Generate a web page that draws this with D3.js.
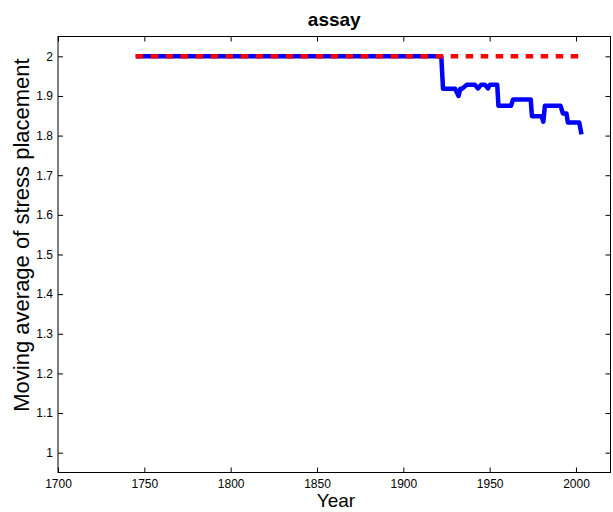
<!DOCTYPE html>
<html>
<head>
<meta charset="utf-8">
<script src="https://cdn.jsdelivr.net/npm/d3@7"></script>
<style>
  html, body { margin: 0; padding: 0; background: #fff; }
  svg { display: block; font-family: "Liberation Sans", Arial, Helvetica, sans-serif; }
</style>
</head>
<body>
<svg id="chart" width="613" height="512"></svg>
<script>
// Moving average of stress placement, "assay"
const years = [1745, 1922, 1923, 1930, 1932, 1933, 1934, 1936.7, 1941.5, 1943.2, 1945, 1947.3, 1949, 1950.2,
               1954.4, 1955.1, 1962.4, 1963.5, 1973.8, 1974.5, 1980.1, 1981.1, 1982, 1991.1, 1992.4,
               1994.5, 1995.3, 2001.9, 2003.2];
const observed = [2.0, 2.0, 1.918, 1.918, 1.900, 1.918, 1.918, 1.928, 1.928, 1.919, 1.928, 1.928, 1.919, 1.928,
                  1.928, 1.875, 1.875, 1.891, 1.891, 1.849, 1.849, 1.835, 1.875, 1.875, 1.856,
                  1.856, 1.833, 1.833, 1.803];
const baselineYears = [1745, 2003.2];
const baselineValues = [2.0, 2.0];
const xTicks = [1700, 1750, 1800, 1850, 1900, 1950, 2000];
const yTicks = [1, 1.1, 1.2, 1.3, 1.4, 1.5, 1.6, 1.7, 1.8, 1.9, 2];

const svg = d3.select("#chart");
const plotLeft = 58, plotRight = 610.5, plotTop = 36.5, plotBottom = 472.5;

const x = d3.scaleLinear().domain([1700, 2020]).range([plotLeft, plotRight]);
const y = d3.scaleLinear().domain([0.95, 2.05]).range([plotBottom, plotTop]);

const tickLen = 5;

// Frame box
svg.append("rect")
  .attr("x", plotLeft).attr("y", plotTop)
  .attr("width", plotRight - plotLeft).attr("height", plotBottom - plotTop)
  .attr("fill", "none").attr("stroke", "#000").attr("stroke-width", 1);

// Axes with inward ticks
const xAxisBottom = d3.axisBottom(x).tickValues(xTicks).tickFormat(d3.format("d")).tickSizeInner(-tickLen).tickSizeOuter(0).tickPadding(7);
const gx = svg.append("g").attr("transform", `translate(0,${plotBottom})`).call(xAxisBottom);
gx.select(".domain").remove();
gx.selectAll("text").attr("font-size", 12).attr("fill", "#000").attr("font-family", "Liberation Sans, Arial, sans-serif");
gx.selectAll("line").attr("stroke", "#000");

const gxTop = svg.append("g").attr("transform", `translate(0,${plotTop})`)
  .call(d3.axisTop(x).tickValues(xTicks).tickFormat("").tickSizeInner(-tickLen).tickSizeOuter(0));
gxTop.select(".domain").remove();
gxTop.selectAll("line").attr("stroke", "#000");

const fmtY = d => (d === 1 || d === 2) ? d3.format("d")(d) : d3.format(".1f")(d);
const gy = svg.append("g").attr("transform", `translate(${plotLeft},0)`)
  .call(d3.axisLeft(y).tickValues(yTicks).tickFormat(fmtY).tickSizeInner(-tickLen).tickSizeOuter(0).tickPadding(5));
gy.select(".domain").remove();
gy.selectAll("text").attr("font-size", 12).attr("fill", "#000").attr("font-family", "Liberation Sans, Arial, sans-serif");
gy.selectAll("line").attr("stroke", "#000");

const gyRight = svg.append("g").attr("transform", `translate(${plotRight},0)`)
  .call(d3.axisRight(y).tickValues(yTicks).tickFormat("").tickSizeInner(-tickLen).tickSizeOuter(0));
gyRight.select(".domain").remove();
gyRight.selectAll("line").attr("stroke", "#000");

// Series
const line = d3.line().x(d => x(d[0])).y(d => y(d[1]));

svg.append("path")
  .datum(years.map((t, i) => [t, observed[i]]))
  .attr("d", line)
  .attr("fill", "none")
  .attr("stroke", "#0000ff")
  .attr("stroke-width", 4.5)
  .attr("stroke-linejoin", "round");

svg.append("path")
  .datum(baselineYears.map((t, i) => [t, baselineValues[i]]))
  .attr("d", line)
  .attr("fill", "none")
  .attr("stroke", "#ff0000")
  .attr("stroke-width", 4.5)
  .attr("stroke-dasharray", "7.5,7.5");

// Title and axis labels
svg.append("text")
  .attr("x", (plotLeft + plotRight) / 2).attr("y", 26)
  .attr("text-anchor", "middle")
  .attr("font-size", 19).attr("font-weight", "bold")
  .text("assay");

svg.append("text")
  .attr("x", 336).attr("y", 507)
  .attr("text-anchor", "middle")
  .attr("font-size", 19)
  .text("Year");

svg.append("text")
  .attr("transform", "translate(29,235) rotate(-90)")
  .attr("text-anchor", "middle")
  .attr("font-size", 22)
  .text("Moving average of stress placement");
</script>
</body>
</html>
